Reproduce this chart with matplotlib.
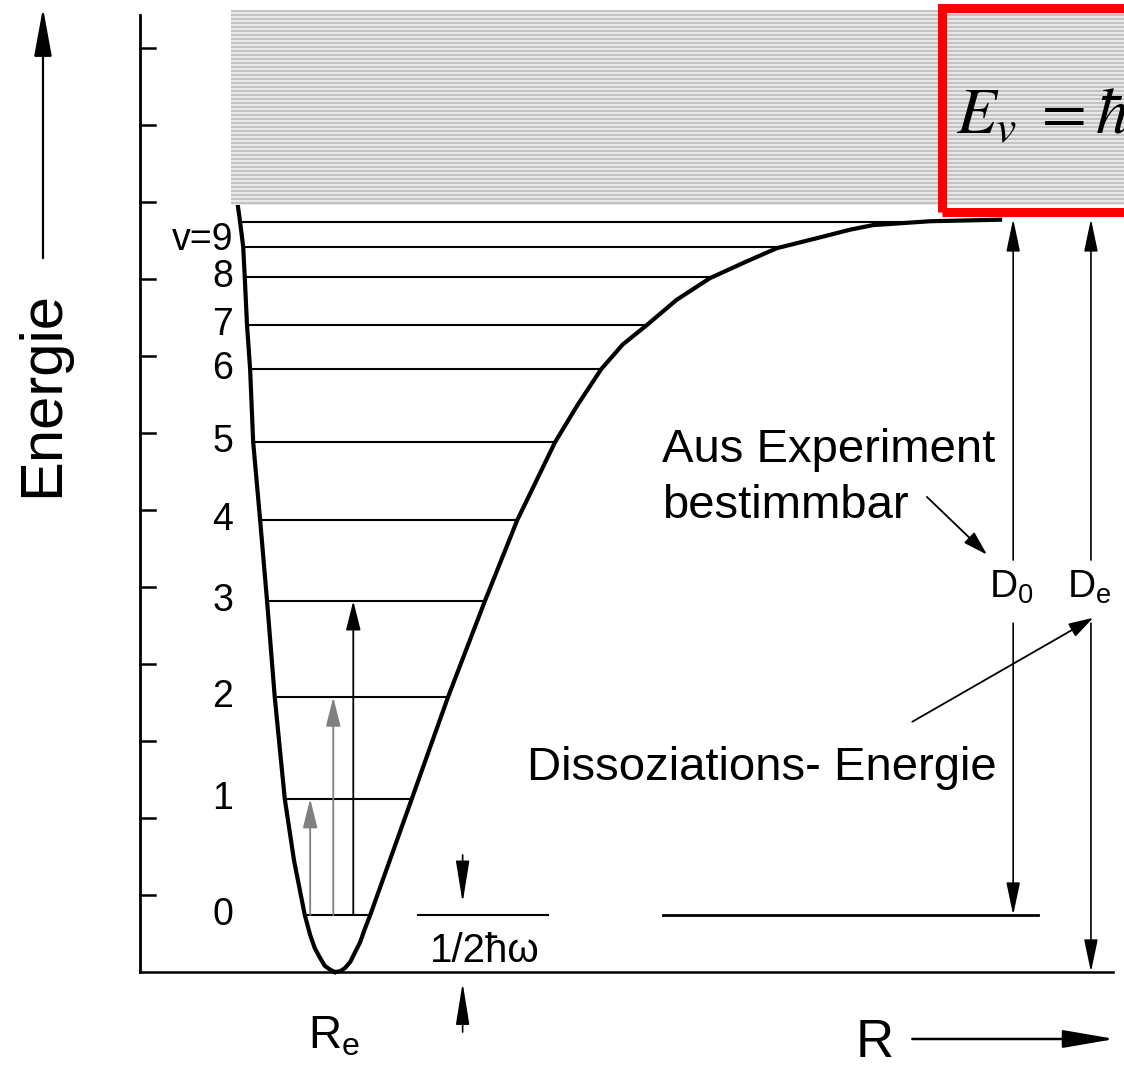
import numpy as np
import matplotlib.pyplot as plt
from matplotlib.patches import FancyArrowPatch, Rectangle

plt.rcParams['font.family'] = ['Liberation Sans', 'DejaVu Sans']

# Potential curve (R in arbitrary units, E in tick units), left and right wall
R_left = [2.53, 2.47, 2.40, 2.34, 2.27, 2.21, 2.14, 2.00, 1.88, 1.75, 1.65, 1.56, 1.47, 1.43,
          1.39, 1.36, 1.34, 1.30, 1.26]
E_left = [0.00, 0.03, 0.08, 0.18, 0.31, 0.48, 0.74, 1.45, 2.25, 3.57, 4.82, 5.87, 6.88, 7.83,
          8.40, 9.03, 9.42, 9.74, 10.03]
R_right = [2.53, 2.60, 2.66, 2.73, 2.79, 2.86, 2.92, 2.99, 3.53, 4.00, 4.48, 4.90, 5.39, 5.68,
           5.99, 6.27, 6.58, 6.97, 7.40, 7.86, 8.27, 8.79, 9.22, 9.52, 10.26, 11.17]
E_right = [0.00, 0.01, 0.05, 0.13, 0.25, 0.39, 0.56, 0.74, 2.25, 3.57, 4.82, 5.87, 6.88, 7.36,
           7.83, 8.15, 8.40, 8.73, 9.01, 9.22, 9.40, 9.53, 9.64, 9.70, 9.75, 9.77]

# vibrational levels v = 0..9 and the dissociation limit
levels = [0.74, 2.25, 3.57, 4.82, 5.87, 6.88, 7.83, 8.40, 9.03, 9.42]
level_labels = ['0', '1', '2', '3', '4', '5', '6', '7', '8', 'v=9']
E_diss = 9.74
E_ticks = [1, 2, 3, 4, 5, 6, 7, 8, 9, 10, 11, 12]

# transitions drawn from v=0
trans_R = [2.21, 2.51, 2.77]
trans_to = [1, 2, 3]
trans_col = ['#808080', '#808080', 'black']

fig = plt.figure(figsize=(11.24, 10.67), dpi=100)
ax = fig.add_axes([0, 0, 1, 1])
ax.set_xlim(-140 / 77, 984 / 77)
ax.set_ylim(-95 / 77, 972 / 77)
ax.axis('off')


def arrow(x0, y0, x1, y1, lw=1.2, hl=16, hw=4.5, color='black', z=3):
    a = FancyArrowPatch((x0, y0), (x1, y1),
                        arrowstyle='-|>,head_length=%g,head_width=%g' % (hl, hw),
                        mutation_scale=1, lw=lw, color=color,
                        shrinkA=0, shrinkB=0, zorder=z)
    ax.add_patch(a)


# axis with ticks
ax.plot([0, 0], [0, 12.43], color='black', lw=2)
ax.plot([0, 12.64], [0, 0], color='black', lw=1.8)
for t in E_ticks:
    ax.plot([0, 0.2], [t, t], color='black', lw=1.8)

# potential curve
ax.plot(R_left, E_left, color='black', lw=3, solid_joinstyle='round', zorder=4)
ax.plot(R_right, E_right, color='black', lw=3, solid_joinstyle='round', zorder=4)

# levels between the walls
El = np.array(E_left)
Rl = np.array(R_left)
for E, lab in zip(levels + [E_diss], level_labels + [None]):
    r0 = np.interp(E, El[6:], Rl[6:])
    r1 = np.interp(E, E_right, R_right)
    ax.plot([r0, r1], [E, E], color='black', lw=1.5, zorder=3)
    if lab is not None:
        dy = 0.09 if lab == 'v=9' else 0.0
        ax.text(1.21, E + dy, lab, ha='right', va='center', fontsize=27)

for r, v, c in zip(trans_R, trans_to, trans_col):
    arrow(r, levels[0], r, levels[v], lw=1.3, hl=18, hw=4.5, color=c)

# zero point energy
ax.plot([3.61, 5.30], [levels[0], levels[0]], color='black', lw=1.5)
arrow(4.19, 1.52, 4.19, 0.90, lw=1.2, hl=26, hw=4.2)
arrow(4.19, -0.78, 4.19, -0.14, lw=1.2, hl=26, hw=4.2)
ax.text(3.77, 0.13, '1/2\u0127\u03c9', fontsize=29, ha='left', va='baseline')

# D0 / De
ax.plot([6.79, 11.66], [levels[0], levels[0]], color='black', lw=2)
for x, bottom in [(11.34, levels[0]), (12.35, 0.0)]:
    arrow(x, 5.35, x, 9.78, lw=1.2, hl=20, hw=4.2)
    arrow(x, 4.53, x, bottom, lw=1.2, hl=20, hw=4.2)
ax.text(11.03, 5.0, r'$\mathregular{D_0}$', fontsize=28, ha='left', va='center')
ax.text(12.04, 5.0, r'$\mathregular{D_e}$', fontsize=28, ha='left', va='center')

# annotations
ax.text(6.78, 6.62, 'Aus Experiment', fontsize=34, ha='left', va='baseline')
ax.text(6.78, 5.90, 'bestimmbar', fontsize=34, ha='left', va='baseline')
ax.text(5.03, 2.49, 'Dissoziations- Energie', fontsize=34, ha='left', va='baseline')
arrow(10.22, 6.17, 11.0, 5.42, lw=1.3, hl=15, hw=4.5)
arrow(10.03, 3.25, 12.38, 4.60, lw=1.3, hl=15, hw=4.5)

# continuum band
ax.add_patch(Rectangle((1.18, 9.96), 12.0, 2.53, facecolor='#e8e8e8', edgecolor='none', zorder=5))
stripes = np.arange(9.99, 12.49, 4 / 77)
ax.hlines(stripes, 1.18, 13.2, color='#b8b8b8', lw=1.1, zorder=5)
ax.add_patch(Rectangle((10.42, 9.87), 3.0, 2.65, facecolor='none', edgecolor='#ff0000',
                       lw=6.5, zorder=6))
ax.text(10.60, 10.88, r'$E_{v}\;=\hbar\omega\,(v+\frac{1}{2})$', fontsize=47,
        math_fontfamily='stix', ha='left', va='baseline', zorder=7)

# axis labels
arrow(-1.26, 9.27, -1.26, 12.52, lw=1.6, hl=30, hw=5.5)
ax.text(-1.06, 7.51, 'Energie', fontsize=43, rotation=90, rotation_mode='anchor',
        ha='center', va='baseline')
ax.text(2.18, -0.99, r'$\mathregular{R_e}$', fontsize=33, ha='left', va='baseline')
ax.text(9.30, -1.10, 'R', fontsize=38, ha='left', va='baseline')
arrow(10.03, -0.87, 12.66, -0.87, lw=1.8, hl=32, hw=5.5)

fig.savefig('out.png', dpi=100)
